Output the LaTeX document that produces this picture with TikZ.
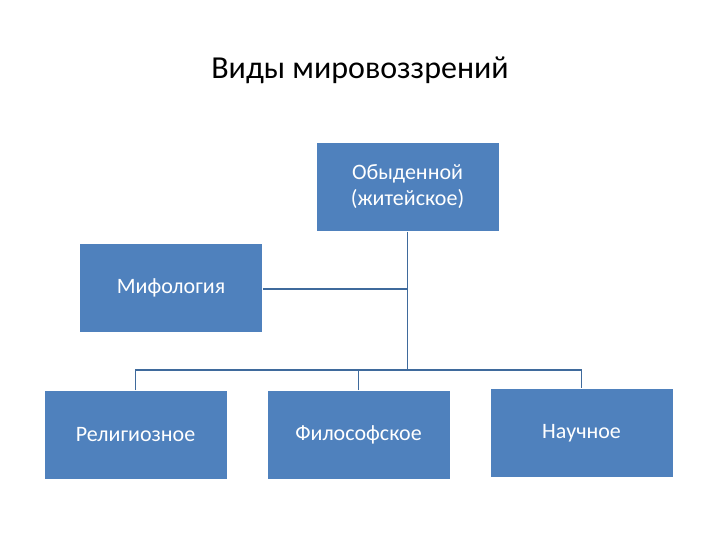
\documentclass[tikz,border=0pt]{standalone}
\usepackage{fontspec}
\setmainfont{Carlito}
\definecolor{boxblue}{HTML}{4F81BD}
\definecolor{linec}{HTML}{3F6A9C}
\begin{document}
\begin{tikzpicture}[x=1pt,y=-1pt,
  bx/.style={fill=boxblue,draw=white,line width=0.8pt,minimum width=183pt,minimum height=89pt,inner sep=2pt,text=white,font=\fontsize{22}{26}\selectfont,align=center},
  ln/.style={draw=linec,line width=1.2pt}]
\useasboundingbox (0,0) rectangle (720,540);
\node[font=\fontsize{32}{38}\selectfont] (t) at (360,70) {Виды мировоззрений};
\node[bx] (ob) at (407.5,187) {Обыденной\\(житейское)};
\node[bx] (mi) at (171,288) {Мифология};
\node[bx] (re) at (135.5,435) {Религиозное};
\node[bx] (fi) at (358.5,435) {Философское};
\node[bx] (na) at (581.5,433) {Научное};
\coordinate (j) at (407.5,370);
\coordinate (m) at (407.5,289);
\draw[ln] (ob.south) -- (j);
\draw[ln] (mi.east |- m) -- (m);
\draw[ln] (re.north) -- (re.north |- j) -- (na.north |- j) -- (na.north);
\draw[ln] (fi.north) -- (fi.north |- j);
\end{tikzpicture}
\end{document}
